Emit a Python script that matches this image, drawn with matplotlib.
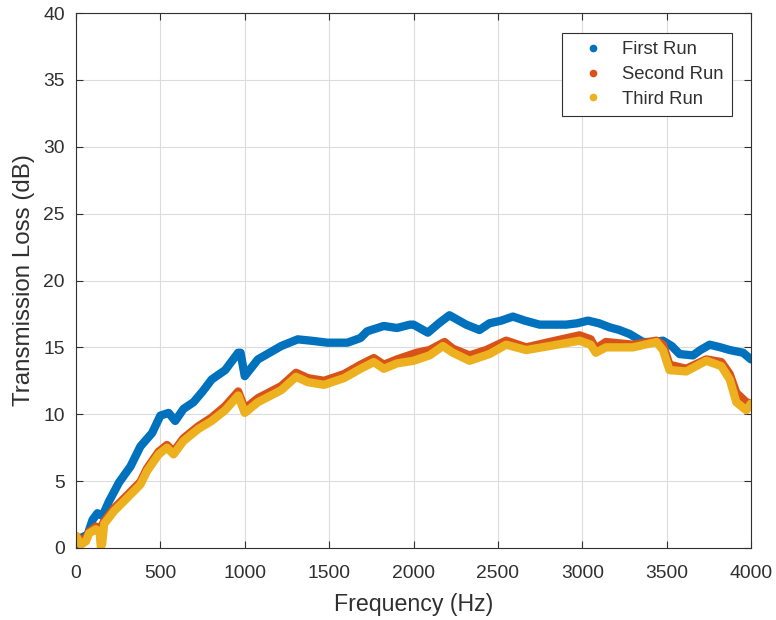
import matplotlib
matplotlib.use("Agg")
import matplotlib.pyplot as plt
from matplotlib.lines import Line2D

# frequency (Hz) / transmission loss (dB) for each run
first_f = [0, 29, 69, 98, 127, 157, 196, 255, 323, 382, 451, 500, 549, 588, 637,
           696, 750, 804, 884, 961, 975, 1000, 1078, 1216, 1314, 1392, 1490, 1608,
           1686, 1725, 1824, 1902, 1980, 2000, 2085, 2150, 2213, 2312, 2391, 2450,
           2520, 2589, 2660, 2747, 2830, 2905, 2970, 3034, 3100, 3162, 3220, 3281,
           3360, 3420, 3478, 3530, 3577, 3656, 3700, 3755, 3820, 3874, 3953, 4000]
first_tl = [0.0, 0.75, 1.0, 2.1, 2.6, 2.4, 3.5, 4.9, 6.1, 7.6, 8.6, 9.9, 10.1, 9.5, 10.4,
            10.9, 11.7, 12.6, 13.3, 14.6, 14.6, 12.85, 14.1, 15.1, 15.6, 15.5, 15.35, 15.35,
            15.7, 16.2, 16.6, 16.45, 16.7, 16.7, 16.1, 16.8, 17.4, 16.7, 16.3, 16.8,
            17.0, 17.3, 17.0, 16.7, 16.7, 16.7, 16.8, 17.0, 16.8, 16.5, 16.3, 16.0,
            15.4, 15.4, 15.5, 15.1, 14.5, 14.4, 14.8, 15.2, 15.0, 14.8, 14.6, 14.1]

second_f = [0, 29, 59, 78, 118, 147, 167, 225, 304, 382, 421, 490, 539, 578, 637,
            725, 804, 884, 961, 1000, 1078, 1216, 1304, 1373, 1470, 1588, 1686, 1765,
            1824, 1902, 2020, 2095, 2184, 2233, 2332, 2431, 2549, 2668, 2806, 2984,
            3050, 3080, 3140, 3300, 3440, 3478, 3517, 3616, 3735, 3824, 3874, 3913,
            3972, 4000]
second_tl = [0.9, 0.6, 0.7, 1.2, 1.6, 1.5, 2.0, 2.95, 3.95, 4.95, 5.95, 7.2, 7.7, 7.2, 8.2,
             9.1, 9.75, 10.6, 11.7, 10.4, 11.2, 12.1, 13.1, 12.7, 12.5, 13.0, 13.7, 14.2,
             13.7, 14.1, 14.6, 14.8, 15.4, 14.9, 14.4, 14.8, 15.5, 15.0, 15.4, 15.9,
             15.6, 14.9, 15.4, 15.2, 15.5, 15.2, 13.7, 13.4, 14.1, 13.9, 13.0, 11.6,
             10.9, 10.8]

third_f = [0, 29, 59, 78, 118, 140, 147, 155, 167, 225, 304, 382, 421, 490, 539, 578,
           637, 725, 804, 884, 961, 1000, 1078, 1216, 1304, 1373, 1470, 1588, 1686,
           1765, 1824, 1902, 2000, 2095, 2174, 2233, 2332, 2450, 2549, 2668, 2806,
           2984, 3050, 3080, 3140, 3300, 3440, 3478, 3517, 3616, 3735, 3824, 3874,
           3913, 3972, 4000]
third_tl = [0.9, 0.25, 0.5, 1.1, 1.4, 1.2, 0.1, 0.3, 1.8, 2.75, 3.75, 4.75, 5.75, 7.0, 7.5, 7.0,
            8.0, 8.9, 9.5, 10.3, 11.4, 10.1, 10.9, 11.8, 12.8, 12.4, 12.2, 12.7, 13.4,
            13.9, 13.4, 13.8, 14.0, 14.4, 15.1, 14.6, 14.0, 14.5, 15.2, 14.8, 15.1,
            15.5, 15.2, 14.6, 15.0, 15.0, 15.4, 14.8, 13.3, 13.2, 14.0, 13.6, 12.6,
            10.9, 10.3, 10.8]

runs = ["First Run", "Second Run", "Third Run"]
colors = ["#0072BD", "#D95319", "#EDB120"]

plt.rcParams["font.family"] = ["Liberation Sans", "DejaVu Sans"]
txt = "#303030"

fig = plt.figure(figsize=(7.76, 6.2), dpi=100)
ax = fig.add_axes([76 / 776, 1 - 548 / 620, 675 / 776, 535 / 620])

for f, tl, c in zip([first_f, second_f, third_f], [first_tl, second_tl, third_tl], colors):
    ax.plot(f, tl, color=c, lw=6, solid_capstyle="round", solid_joinstyle="round")

ax.set_xlim(0, 4000)
ax.set_ylim(0, 40)
ax.set_xticks(range(0, 4001, 500))
ax.set_yticks(range(0, 41, 5))
ax.grid(True, color="#dcdcdc", lw=0.8)
ax.set_axisbelow(True)
ax.tick_params(direction="in", length=5, width=0.8, colors=txt, labelsize=13.9,
               top=True, right=True)
ax.tick_params(axis="x", pad=12)
ax.tick_params(axis="y", pad=8)
for s in ax.spines.values():
    s.set_color(txt)
    s.set_linewidth(0.8)

ax.set_xlabel("Frequency (Hz)", fontsize=16.7, color=txt, labelpad=8)
ax.set_ylabel("Transmission Loss (dB)", fontsize=17.4, color=txt, labelpad=6)

handles = [Line2D([], [], marker=".", ls="none", color=c, markersize=9) for c in colors]
leg = ax.legend(handles, runs, loc="upper right", bbox_to_anchor=(1 - 19 / 675, 1 - 20 / 535),
                borderaxespad=0, fontsize=13.3, fancybox=False, edgecolor=txt,
                framealpha=1, handletextpad=0.4, handlelength=2.4, labelspacing=0.42,
                borderpad=0.45)
leg.get_frame().set_linewidth(0.8)
for t in leg.get_texts():
    t.set_color(txt)

fig.savefig("out.png", dpi=100)
